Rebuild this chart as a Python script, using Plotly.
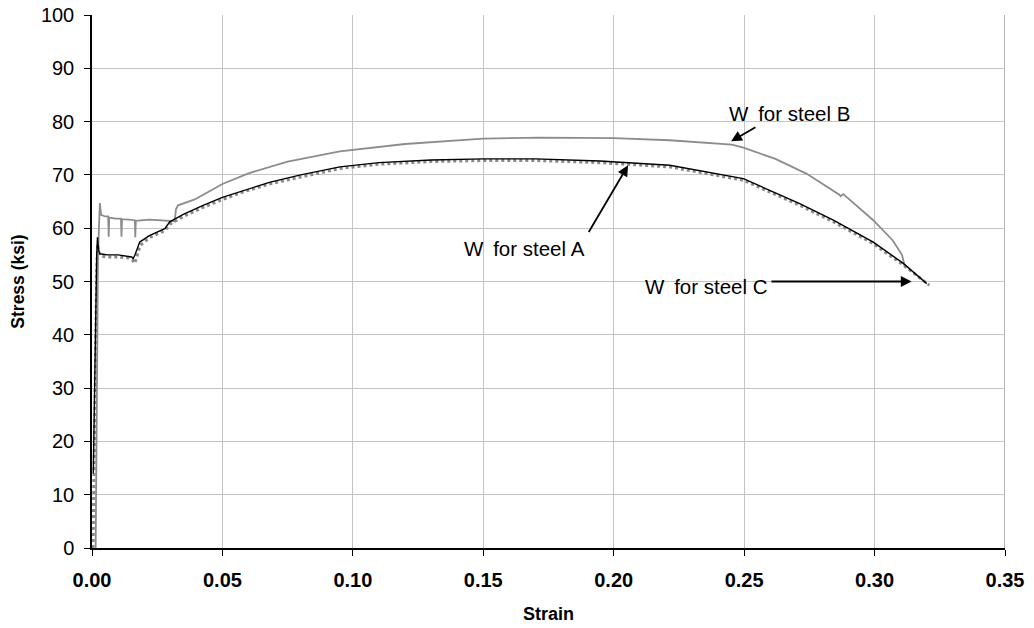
import plotly.graph_objects as go

# Steel A (black solid)
strain_a = [0.0005, 0.0012, 0.0018, 0.0021, 0.0025, 0.0030, 0.0060, 0.0100, 0.0140, 0.0152, 0.0158,
            0.0165, 0.0183, 0.0220, 0.0279, 0.0298, 0.0350, 0.0426, 0.0500, 0.0592, 0.0680, 0.0800,
            0.0950, 0.1100, 0.1300, 0.1500, 0.1700, 0.1947, 0.2215, 0.2497, 0.2713, 0.2842, 0.2995,
            0.3110, 0.3200]
stress_a = [14.0, 40.0, 55.0, 58.3, 56.0, 55.2, 55.0, 55.0, 54.8, 54.6, 54.3,
            55.0, 57.4, 58.6, 59.9, 61.2, 62.6, 64.3, 65.8, 67.3, 68.6, 70.0,
            71.5, 72.3, 72.8, 73.0, 73.0, 72.6, 71.8, 69.3, 64.6, 61.5, 57.4,
            53.4, 49.6]

# Steel B (gray solid)
strain_b = [0.0014, 0.0018, 0.0023, 0.0030, 0.0035, 0.0050, 0.0062, 0.0064, 0.0066, 0.0090, 0.0111,
            0.0113, 0.0115, 0.0140, 0.0164, 0.0166, 0.0168, 0.0220, 0.0270, 0.0317, 0.0322, 0.0330,
            0.0394, 0.0500, 0.0600, 0.0750, 0.0950, 0.1200, 0.1500, 0.1717, 0.2000, 0.2215, 0.2453,
            0.2497, 0.2620, 0.2740, 0.2865, 0.2870, 0.2880, 0.2995, 0.3070, 0.3105, 0.3115]
stress_b = [0.0, 30.0, 55.0, 64.7, 62.5, 62.2, 62.2, 58.4, 62.0, 61.8, 61.8,
            58.4, 61.7, 61.6, 61.5, 58.3, 61.4, 61.6, 61.4, 61.3, 63.6, 64.3,
            65.4, 68.3, 70.3, 72.5, 74.4, 75.8, 76.8, 77.0, 76.9, 76.5, 75.7,
            75.1, 73.0, 70.2, 66.3, 66.0, 66.4, 61.5, 57.7, 55.0, 53.0]

# Steel C (dotted)
strain_c = [0.0004, 0.0008, 0.0013, 0.0018, 0.0022, 0.0026, 0.0032, 0.0060, 0.0100, 0.0140, 0.0155,
            0.0163, 0.0170, 0.0185, 0.0220, 0.0280, 0.0300, 0.0350, 0.0426, 0.0500, 0.0592, 0.0680,
            0.0800, 0.0950, 0.1100, 0.1300, 0.1500, 0.1700, 0.1947, 0.2215, 0.2497, 0.2713, 0.2842,
            0.2995, 0.3110, 0.3210]
stress_c = [0.0, 15.0, 38.0, 52.0, 57.0, 55.5, 54.8, 54.6, 54.6, 54.4, 54.0,
            53.4, 54.3, 56.8, 58.2, 59.6, 60.8, 62.2, 63.9, 65.4, 67.0, 68.3,
            69.6, 71.2, 72.0, 72.5, 72.7, 72.7, 72.3, 71.5, 69.0, 64.3, 61.2,
            57.1, 53.1, 49.3]

x_ticks = [0.00, 0.05, 0.10, 0.15, 0.20, 0.25, 0.30, 0.35]
x_tick_labels = ["0.00", "0.05", "0.10", "0.15", "0.20", "0.25", "0.30", "0.35"]
y_ticks = [0, 10, 20, 30, 40, 50, 60, 70, 80, 90, 100]

# annotation anchors (strain, stress)
label_a = {"text": "W&#8201; for steel A", "x": 0.1659, "y": 56.2, "tail": (0.1901, 59.0), "tip": (0.2055, 71.8)}
label_b = {"text": "W&#8201; for steel B", "x": 0.2672, "y": 81.6, "tail": (0.2549, 79.1), "tip": (0.2450, 76.3)}
label_c = {"text": "W&#8201; for steel C", "x": 0.2356, "y": 49.0, "tail": (0.2599, 50.0), "tip": (0.3142, 50.0)}

FONT = "Liberation Sans, Arial, sans-serif"

fig = go.Figure()
fig.add_trace(go.Scatter(x=strain_c, y=stress_c, mode="lines", name="Steel C",
                         line=dict(color="#8a8a8a", width=3, dash="dot")))
fig.add_trace(go.Scatter(x=strain_b, y=stress_b, mode="lines", name="Steel B",
                         line=dict(color="#8c8c8c", width=1.8)))
fig.add_trace(go.Scatter(x=strain_a, y=stress_a, mode="lines", name="Steel A",
                         line=dict(color="#000000", width=1.4)))

for lab in (label_a, label_b, label_c):
    fig.add_annotation(x=lab["x"], y=lab["y"], xref="x", yref="y", text=lab["text"],
                       showarrow=False, font=dict(family=FONT, size=20.5, color="#000"))
    fig.add_annotation(x=lab["tip"][0], y=lab["tip"][1], ax=lab["tail"][0], ay=lab["tail"][1],
                       xref="x", yref="y", axref="x", ayref="y", text="",
                       showarrow=True, arrowhead=2, arrowsize=1.2, arrowwidth=1.8,
                       arrowcolor="#000", standoff=0, startstandoff=0)

# darker right boundary line at the last gridline
fig.add_shape(type="line", xref="x", yref="y", x0=0.35, x1=0.35, y0=0, y1=100,
              line=dict(color="#9a9a9a", width=1.5), layer="below")

fig.update_layout(
    width=1034, height=628,
    margin=dict(l=92, r=29, t=15, b=80),
    paper_bgcolor="white", plot_bgcolor="white",
    showlegend=False,
    font=dict(family=FONT, color="#000"),
)
fig.update_xaxes(range=[0, 0.35], tickvals=x_ticks, ticktext=x_tick_labels, automargin=False,
                 tickfont=dict(family=FONT, size=20, color="#000", weight="bold"),
                 showgrid=True, gridcolor="#c4c4c4", gridwidth=1,
                 showline=True, linecolor="#000", linewidth=1.5,
                 ticks="outside", ticklen=6, tickcolor="#000", tickwidth=1,
                 ticklabelstandoff=7, zeroline=False,
                 title=dict(text="<b>Strain</b>", font=dict(family=FONT, size=18), standoff=18))
fig.update_yaxes(range=[0, 100], tickvals=y_ticks, automargin=False,
                 tickfont=dict(family=FONT, size=20, color="#000"),
                 showgrid=True, gridcolor="#c4c4c4", gridwidth=1,
                 showline=True, linecolor="#000", linewidth=1.5,
                 ticks="outside", ticklen=6, tickcolor="#000", tickwidth=1,
                 ticklabelstandoff=6, zeroline=False,
                 title=dict(text="<b>Stress (ksi)</b>", font=dict(family=FONT, size=17.5), standoff=12))

fig.write_html("out.html")
